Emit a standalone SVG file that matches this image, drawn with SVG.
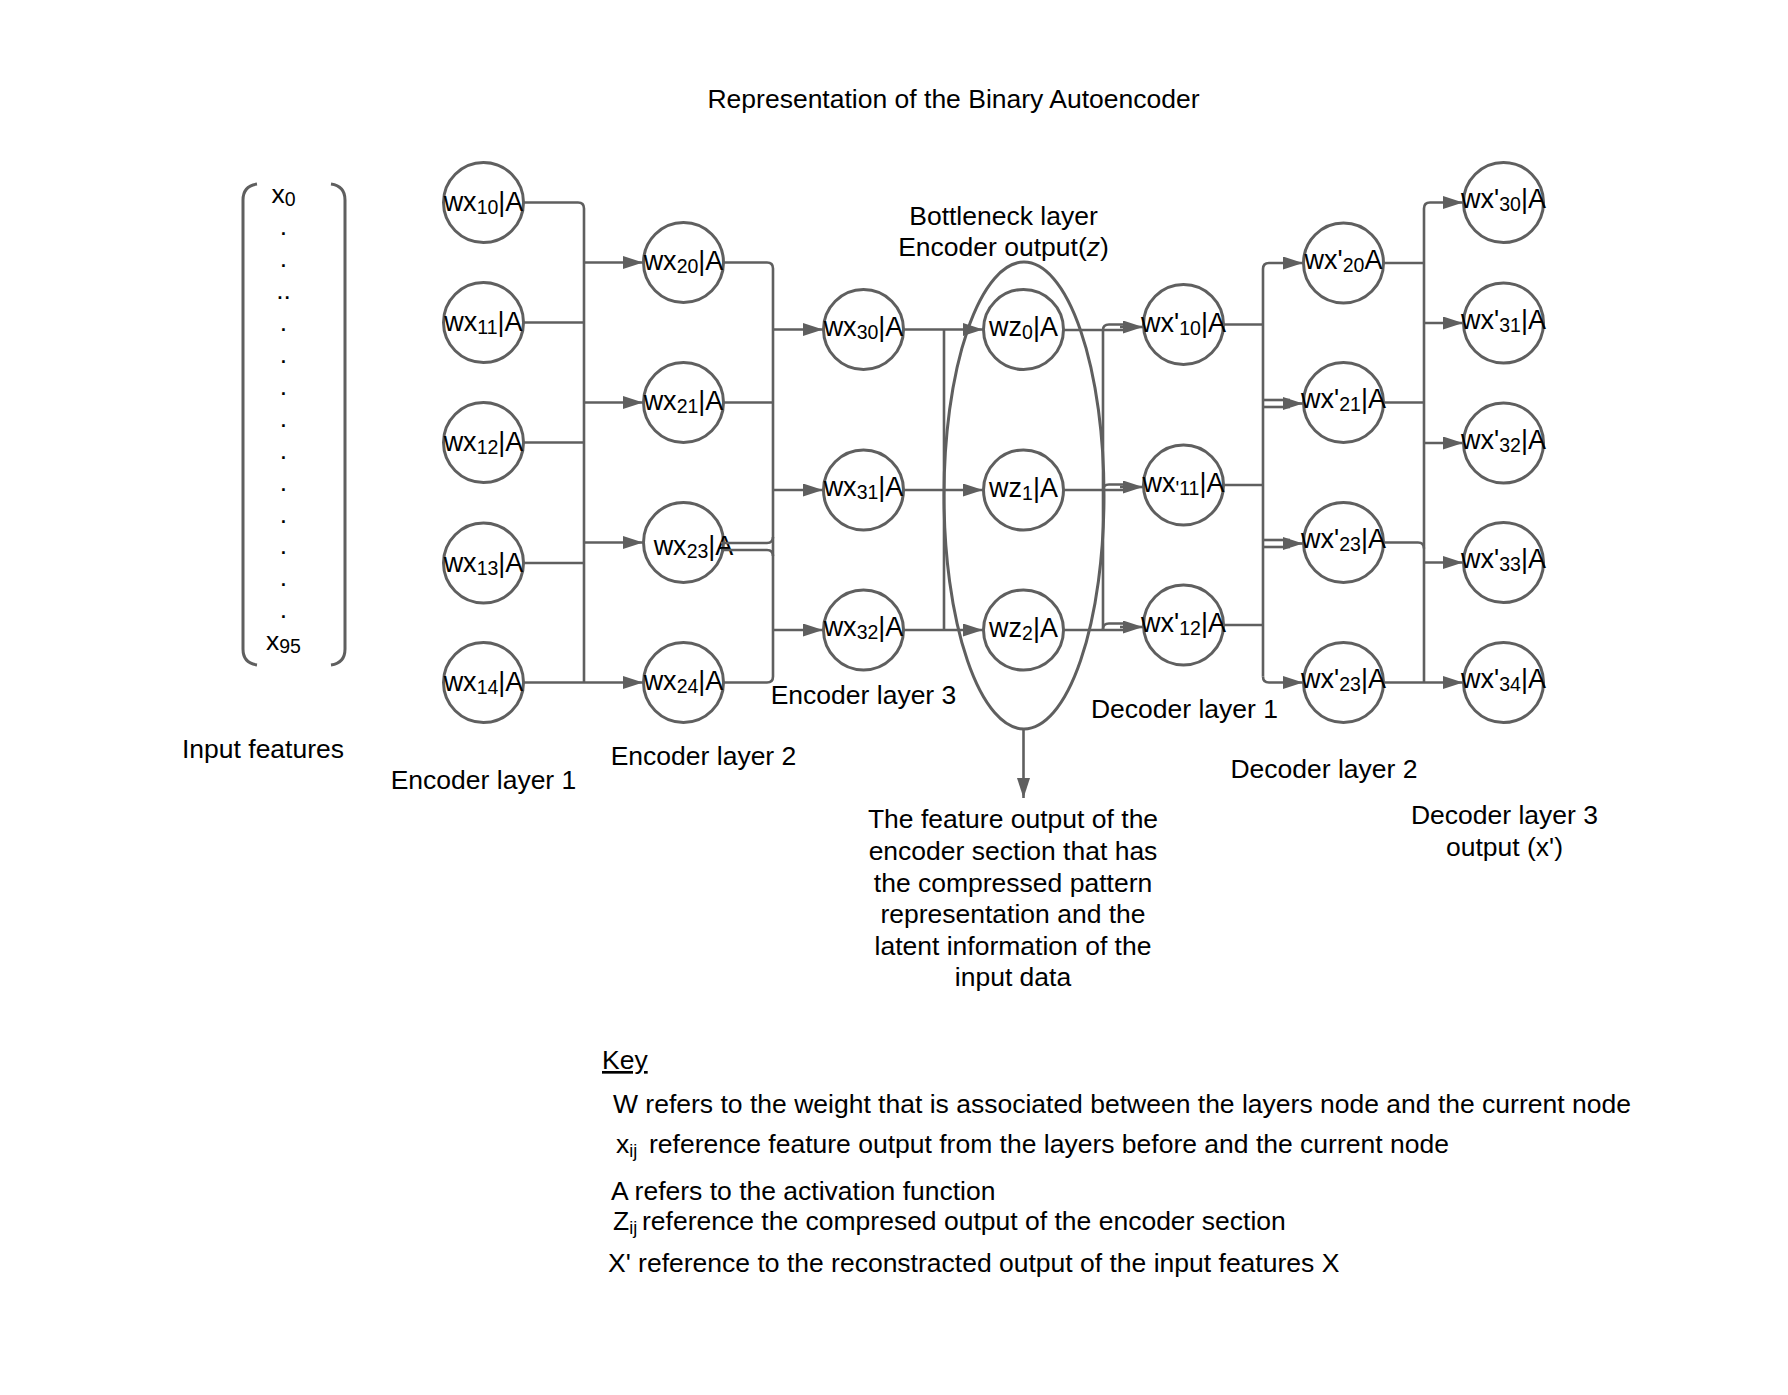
<svg xmlns="http://www.w3.org/2000/svg" width="1788" height="1395" viewBox="0 0 1788 1395">
<defs>
<style>
.t{font-family:"Liberation Sans",Arial,sans-serif;font-size:26.5px;fill:#000}
.m{text-anchor:middle}
.nt{font-family:"Liberation Sans",Arial,sans-serif;font-size:27px;fill:#000;text-anchor:middle}
.s{font-size:19.5px}
.ks{font-size:18px}
.n{fill:#fff;stroke:#5f5f5f;stroke-width:3}
.c path,.c line{fill:none;stroke:#5f5f5f;stroke-width:2.6;stroke-linejoin:round}
.c .a{marker-end:url(#ah)}
.br{fill:none;stroke:#5f5f5f;stroke-width:3}
</style>
<marker id="ah" markerUnits="userSpaceOnUse" markerWidth="20" markerHeight="13" refX="20" refY="6.5" orient="auto">
<path d="M0,0 L20,6.5 L0,13 z" fill="#5f5f5f"/>
</marker>
</defs>
<rect width="1788" height="1395" fill="#fff"/>

<text class="t m" x="953.5" y="108">Representation of the Binary Autoencoder</text>

<g id="input-features">
<path class="br" d="M257,184 Q243,186 243,200 V649 Q243,663 257,665"/>
<path class="br" d="M331,184 Q345,186 345,200 V649 Q345,663 331,665"/>
<text class="t m" x="283.5" y="203">x<tspan class="s" dy="3">0</tspan></text>
<text class="t m" x="283.5" y="235">.</text>
<text class="t m" x="283.5" y="267">.</text>
<text class="t m" x="283.5" y="299">..</text>
<text class="t m" x="283.5" y="331">.</text>
<text class="t m" x="283.5" y="363">.</text>
<text class="t m" x="283.5" y="395">.</text>
<text class="t m" x="283.5" y="426.5">.</text>
<text class="t m" x="283.5" y="458.5">.</text>
<text class="t m" x="283.5" y="490.5">.</text>
<text class="t m" x="283.5" y="522.5">.</text>
<text class="t m" x="283.5" y="554">.</text>
<text class="t m" x="283.5" y="586">.</text>
<text class="t m" x="283.5" y="618">.</text>
<text class="t m" x="283.5" y="650">x<tspan class="s" dy="3">95</tspan></text>
<text class="t m" x="263" y="758">Input features</text>
</g>

<g id="bottleneck">
<ellipse cx="1024" cy="495.5" rx="80" ry="233.5" fill="none" stroke="#5f5f5f" stroke-width="3"/>
<text class="t m" x="1003.5" y="225">Bottleneck layer</text>
<text class="t m" x="1003.5" y="256">Encoder output(<tspan font-style="italic">z</tspan>)</text>
</g>

<g id="enc1">
<g id="wx10"><circle class="n" cx="483.5" cy="202.5" r="40"/><text class="nt" x="483.5" y="211">wx<tspan class="s" dy="3">10</tspan><tspan dy="-3">|A</tspan></text></g>
<g id="wx11"><circle class="n" cx="483.5" cy="322.5" r="40"/><text class="nt" x="483.5" y="331">wx<tspan class="s" dy="3">11</tspan><tspan dy="-3">|A</tspan></text></g>
<g id="wx12"><circle class="n" cx="483.5" cy="442.5" r="40"/><text class="nt" x="483.5" y="451">wx<tspan class="s" dy="3">12</tspan><tspan dy="-3">|A</tspan></text></g>
<g id="wx13"><circle class="n" cx="483.5" cy="563" r="40"/><text class="nt" x="483.5" y="571.5">wx<tspan class="s" dy="3">13</tspan><tspan dy="-3">|A</tspan></text></g>
<g id="wx14"><circle class="n" cx="483.5" cy="682.5" r="40"/><text class="nt" x="483.5" y="691">wx<tspan class="s" dy="3">14</tspan><tspan dy="-3">|A</tspan></text></g>
<text class="t m" x="483.5" y="789">Encoder layer 1</text>
</g>

<g id="enc2">
<g id="wx20"><circle class="n" cx="683.5" cy="262.5" r="40"/><text class="nt" x="683.5" y="270">wx<tspan class="s" dy="3">20</tspan><tspan dy="-3">|A</tspan></text></g>
<g id="wx21"><circle class="n" cx="683.5" cy="402.5" r="40"/><text class="nt" x="683.5" y="410">wx<tspan class="s" dy="3">21</tspan><tspan dy="-3">|A</tspan></text></g>
<g id="wx23"><circle class="n" cx="683.5" cy="542.5" r="40"/><text class="nt" x="693.5" y="555">wx<tspan class="s" dy="3">23</tspan><tspan dy="-3">|A</tspan></text></g>
<g id="wx24"><circle class="n" cx="683.5" cy="682.5" r="40"/><text class="nt" x="683.5" y="690">wx<tspan class="s" dy="3">24</tspan><tspan dy="-3">|A</tspan></text></g>
<text class="t m" x="703.5" y="765">Encoder layer 2</text>
</g>

<g id="enc3">
<g id="wx30"><circle class="n" cx="863.5" cy="329.5" r="40"/><text class="nt" x="863.5" y="335.5">wx<tspan class="s" dy="3">30</tspan><tspan dy="-3">|A</tspan></text></g>
<g id="wx31"><circle class="n" cx="863.5" cy="490" r="40"/><text class="nt" x="863.5" y="496">wx<tspan class="s" dy="3">31</tspan><tspan dy="-3">|A</tspan></text></g>
<g id="wx32"><circle class="n" cx="863.5" cy="630" r="40"/><text class="nt" x="863.5" y="636">wx<tspan class="s" dy="3">32</tspan><tspan dy="-3">|A</tspan></text></g>
<text class="t m" x="863.5" y="704">Encoder layer 3</text>
</g>

<g id="latent">
<g id="wz0"><circle class="n" cx="1023.5" cy="329.5" r="40"/><text class="nt" x="1023.5" y="336">wz<tspan class="s" dy="3">0</tspan><tspan dy="-3">|A</tspan></text></g>
<g id="wz1"><circle class="n" cx="1023.5" cy="490" r="40"/><text class="nt" x="1023.5" y="496.5">wz<tspan class="s" dy="3">1</tspan><tspan dy="-3">|A</tspan></text></g>
<g id="wz2"><circle class="n" cx="1023.5" cy="630" r="40"/><text class="nt" x="1023.5" y="636.5">wz<tspan class="s" dy="3">2</tspan><tspan dy="-3">|A</tspan></text></g>
</g>

<g id="dec1">
<g id="wxp10"><circle class="n" cx="1183.5" cy="324.5" r="40"/><text class="nt" x="1183.5" y="331.5">wx'<tspan class="s" dy="3">10</tspan><tspan dy="-3">|A</tspan></text></g>
<g id="wxp11"><circle class="n" cx="1183.5" cy="485" r="40"/><text class="nt" x="1183.5" y="492">wx<tspan class="s" dy="3">'11</tspan><tspan dy="-3">|A</tspan></text></g>
<g id="wxp12"><circle class="n" cx="1183.5" cy="625" r="40"/><text class="nt" x="1183.5" y="632">wx'<tspan class="s" dy="3">12</tspan><tspan dy="-3">|A</tspan></text></g>
<text class="t m" x="1184.5" y="718">Decoder layer 1</text>
</g>

<g id="dec2">
<g id="wxp20"><circle class="n" cx="1343.5" cy="263" r="40"/><text class="nt" x="1343.5" y="268.5">wx'<tspan class="s" dy="3">20</tspan><tspan dy="-3">A</tspan></text></g>
<g id="wxp21"><circle class="n" cx="1343.5" cy="402.5" r="40"/><text class="nt" x="1343.5" y="408">wx'<tspan class="s" dy="3">21</tspan><tspan dy="-3">|A</tspan></text></g>
<g id="wxp23a"><circle class="n" cx="1343.5" cy="542.5" r="40"/><text class="nt" x="1343.5" y="548">wx'<tspan class="s" dy="3">23</tspan><tspan dy="-3">|A</tspan></text></g>
<g id="wxp23b"><circle class="n" cx="1343.5" cy="682.5" r="40"/><text class="nt" x="1343.5" y="688">wx'<tspan class="s" dy="3">23</tspan><tspan dy="-3">|A</tspan></text></g>
<text class="t m" x="1324" y="778">Decoder layer 2</text>
</g>

<g id="dec3">
<g id="wxp30"><circle class="n" cx="1503.5" cy="202.5" r="40"/><text class="nt" x="1503.5" y="208">wx'<tspan class="s" dy="3">30</tspan><tspan dy="-3">|A</tspan></text></g>
<g id="wxp31"><circle class="n" cx="1503.5" cy="323" r="40"/><text class="nt" x="1503.5" y="328.5">wx'<tspan class="s" dy="3">31</tspan><tspan dy="-3">|A</tspan></text></g>
<g id="wxp32"><circle class="n" cx="1503.5" cy="443" r="40"/><text class="nt" x="1503.5" y="448.5">wx'<tspan class="s" dy="3">32</tspan><tspan dy="-3">|A</tspan></text></g>
<g id="wxp33"><circle class="n" cx="1503.5" cy="562.5" r="40"/><text class="nt" x="1503.5" y="568">wx'<tspan class="s" dy="3">33</tspan><tspan dy="-3">|A</tspan></text></g>
<g id="wxp34"><circle class="n" cx="1503.5" cy="682.5" r="40"/><text class="nt" x="1503.5" y="688">wx'<tspan class="s" dy="3">34</tspan><tspan dy="-3">|A</tspan></text></g>
<text class="t m" x="1504.5" y="824">Decoder layer 3</text>
<text class="t m" x="1504.5" y="856">output (x')</text>
</g>

<g id="connectors" class="c">
<!-- encoder layer 1 -> 2 -->
<path d="M524,202.5 H578 Q584,202.5 584,208.5 V682.5"/>
<path d="M524,322.5 H584"/>
<path d="M524,442.5 H584"/>
<path d="M524,563 H584"/>
<path class="a" d="M584,262.5 H643"/>
<path class="a" d="M584,402.5 H643"/>
<path class="a" d="M584,542.5 H643"/>
<path class="a" d="M524,682.5 H643"/>
<!-- encoder layer 2 -> 3 -->
<path d="M724,262.5 H767 Q773,262.5 773,268.5 V676.5 Q773,682.5 767,682.5 H724"/>
<path d="M724,402.5 H773"/>
<path d="M721,543 H767 Q773,543 773,537"/>
<path d="M721,550 H767 Q773,550 773,556"/>
<path class="a" d="M773,329.5 H823"/>
<path class="a" d="M773,490 H823"/>
<path class="a" d="M773,630 H823"/>
<!-- encoder layer 3 -> bottleneck -->
<path d="M944,329.5 V630"/>
<path class="a" d="M904,329.5 H983"/>
<path class="a" d="M904,490 H983"/>
<path class="a" d="M904,630 H983"/>
<!-- bottleneck -> decoder layer 1 -->
<path d="M1103,330 V630"/>
<path d="M1064,330 H1128"/>
<path d="M1103,330 Q1103,324.5 1109,324.5 H1128"/>
<path class="a" d="M1120,327 H1143"/>
<path d="M1064,490 H1128"/>
<path d="M1103,490 Q1103,484.5 1109,484.5 H1128"/>
<path class="a" d="M1120,487 H1143"/>
<path d="M1064,630 H1128"/>
<path d="M1103,629 Q1103,623.5 1109,623.5 H1128"/>
<path class="a" d="M1120,627 H1143"/>
<!-- decoder layer 1 -> 2 -->
<path d="M1223,324.5 H1263"/>
<path d="M1223,485 H1263"/>
<path d="M1223,625 H1263"/>
<path class="a" d="M1263,676.5 V269 Q1263,263 1269,263 H1303"/>
<path class="a" d="M1263,676.5 Q1263,682.5 1269,682.5 H1303"/>
<path d="M1263,400 H1290"/>
<path d="M1263,407 H1290"/>
<path class="a" d="M1283,403.5 H1303"/>
<path d="M1263,540 H1290"/>
<path d="M1263,547 H1290"/>
<path class="a" d="M1283,543.5 H1303"/>
<!-- decoder layer 2 -> 3 -->
<path class="a" d="M1424,682.5 V208.5 Q1424,202.5 1430,202.5 H1463"/>
<path d="M1384,263 H1424"/>
<path d="M1384,402.5 H1424"/>
<path d="M1384,542.5 H1418 Q1424,542.5 1424,548.5"/>
<path class="a" d="M1384,682.5 H1463"/>
<path class="a" d="M1424,323 H1463"/>
<path class="a" d="M1424,443 H1463"/>
<path class="a" d="M1424,562.5 H1463"/>
<!-- bottleneck description -->
<path class="a" d="M1023.5,729 V798"/>
</g>

<g id="description">
<text class="t m" x="1013" y="828">The feature output of the</text>
<text class="t m" x="1013" y="860">encoder section that has</text>
<text class="t m" x="1013" y="891.5">the compressed pattern</text>
<text class="t m" x="1013" y="923">representation and the</text>
<text class="t m" x="1013" y="954.5">latent information of the</text>
<text class="t m" x="1013" y="986">input data</text>
</g>

<g id="key">
<text class="t" x="602" y="1069" text-decoration="underline">Key</text>
<text class="t" x="613" y="1113">W refers to the weight that is associated between the layers node and the current node</text>
<text class="t" x="616" y="1153">x<tspan class="ks" dy="4">ij</tspan></text>
<text class="t" x="649" y="1153">reference feature output from the layers before and the current node</text>
<text class="t" x="611" y="1200">A refers to the activation function</text>
<text class="t" x="613" y="1230">Z<tspan class="ks" dy="4">ij</tspan></text>
<text class="t" x="642" y="1230">reference the compresed output of the encoder section</text>
<text class="t" x="608" y="1272">X' reference to the reconstracted output of the input features X</text>
</g>
</svg>
